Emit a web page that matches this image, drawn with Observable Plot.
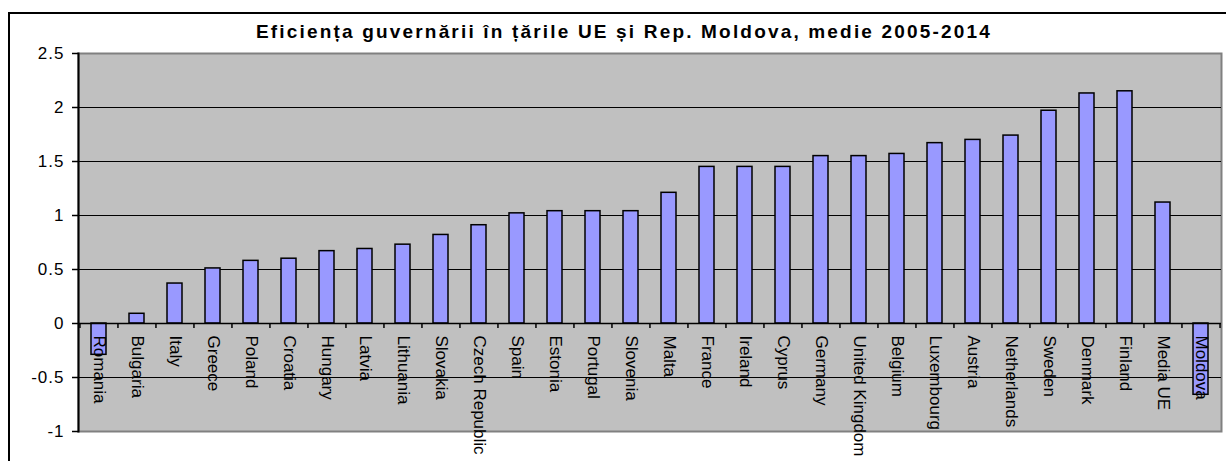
<!DOCTYPE html>
<html>
<head>
<meta charset="utf-8">
<script src="https://cdn.jsdelivr.net/npm/d3@7"></script>
<script src="https://cdn.jsdelivr.net/npm/@observablehq/plot@0.6"></script>
<style>
  html, body { margin: 0; padding: 0; background: #fff; overflow: hidden; }
  #wrap { position: relative; width: 1226px; height: 461px; overflow: hidden; }
  #border { position: absolute; left: 8px; top: 12px; width: 1300px; height: 600px; border: 2px solid #000; box-sizing: border-box; pointer-events: none; }
  #title { position: absolute; left: 8px; width: 1232px; top: 22px; text-align: center; font-family: "Liberation Sans", Arial, sans-serif; font-weight: bold; font-size: 19px; line-height: 20px; color: #000; white-space: nowrap; }
  #title span { display: inline-block; }
  #chart { position: absolute; left: 0; top: 40px; }
</style>
</head>
<body>
<div id="wrap">
  <div id="border"></div>
  <div id="title"><span id="titleText">Eficiența guvernării în țările UE și Rep. Moldova, medie 2005-2014</span></div>
  <div id="chart"></div>
</div>
<script>
const countries = ["Romania","Bulgaria","Italy","Greece","Poland","Croatia","Hungary","Latvia","Lithuania","Slovakia","Czech Republic","Spain","Estonia","Portugal","Slovenia","Malta","France","Ireland","Cyprus","Germany","United Kingdom","Belgium","Luxembourg","Austria","Netherlands","Sweden","Denmark","Finland","Media UE","Moldova"];
const values = [-0.29, 0.09, 0.37, 0.51, 0.58, 0.60, 0.67, 0.69, 0.73, 0.82, 0.91, 1.02, 1.04, 1.04, 1.04, 1.21, 1.45, 1.45, 1.45, 1.55, 1.55, 1.57, 1.67, 1.70, 1.74, 1.97, 2.13, 2.15, 1.12, -0.66];
const yTicks = [-1, -0.5, 0, 0.5, 1, 1.5, 2, 2.5];
const gridLines = [-0.5, 0.5, 1, 1.5, 2];

const data = countries.map((c, i) => ({country: c, value: values[i]}));

const W = 1226, H = 421;
const mL = 78, mR = 5, mT = 13, mB = 30;
const step = (W - mL - mR) / countries.length;

const font = '"Liberation Sans", Arial, sans-serif';

const chart = Plot.plot({
  width: W,
  height: H,
  marginLeft: mL,
  marginRight: mR,
  marginTop: mT,
  marginBottom: mB,
  style: {fontFamily: font, color: "#000", background: "transparent", overflow: "visible"},
  x: {domain: countries, paddingInner: 0.6, paddingOuter: 0.3, axis: null},
  y: {domain: [-1, 2.5], axis: null},
  marks: [
    Plot.frame({fill: "#C0C0C0", stroke: "#808080", strokeWidth: 2}),
    Plot.ruleY(gridLines, {stroke: "#000", strokeWidth: 1.2}),
    Plot.barY(data, {x: "country", y: "value", fill: "#9999FF", stroke: "#000", strokeWidth: 1.5}),
    Plot.ruleY([0], {stroke: "#000", strokeWidth: 1.5}),
    Plot.ruleX(countries, {x: d => d, y1: () => 0, y2: () => 0, insetBottom: -5, dx: -step / 2, stroke: "#000", strokeWidth: 1.5}),
    Plot.ruleX(countries.slice(-1), {x: d => d, y1: () => 0, y2: () => 0, insetBottom: -5, dx: step / 2, stroke: "#000", strokeWidth: 1.5}),
    Plot.frame({anchor: "left", stroke: "#000", strokeWidth: 2}),
    Plot.axisY(yTicks, {tickSize: 6, tickPadding: 8, tickFormat: d => String(d), fontSize: 17, label: null, fill: "#000", stroke: "#000", strokeWidth: 1.5}),
    Plot.text(data, {x: "country", y: () => 0, text: "country", rotate: 90, textAnchor: "start", lineAnchor: "middle", dy: 12, fontSize: 17, fill: "#000"})
  ]
});

d3.select(chart).selectAll("g[aria-label='y-axis tick label'] text").style("letter-spacing", "1px");

document.getElementById("chart").appendChild(chart);

// fit title width to the reference's spread
const span = document.getElementById("titleText");
const txt = span.textContent;
const w = span.getBoundingClientRect().width;
const target = 736;
span.style.letterSpacing = ((target - w) / txt.length) + "px";
</script>
</body>
</html>
